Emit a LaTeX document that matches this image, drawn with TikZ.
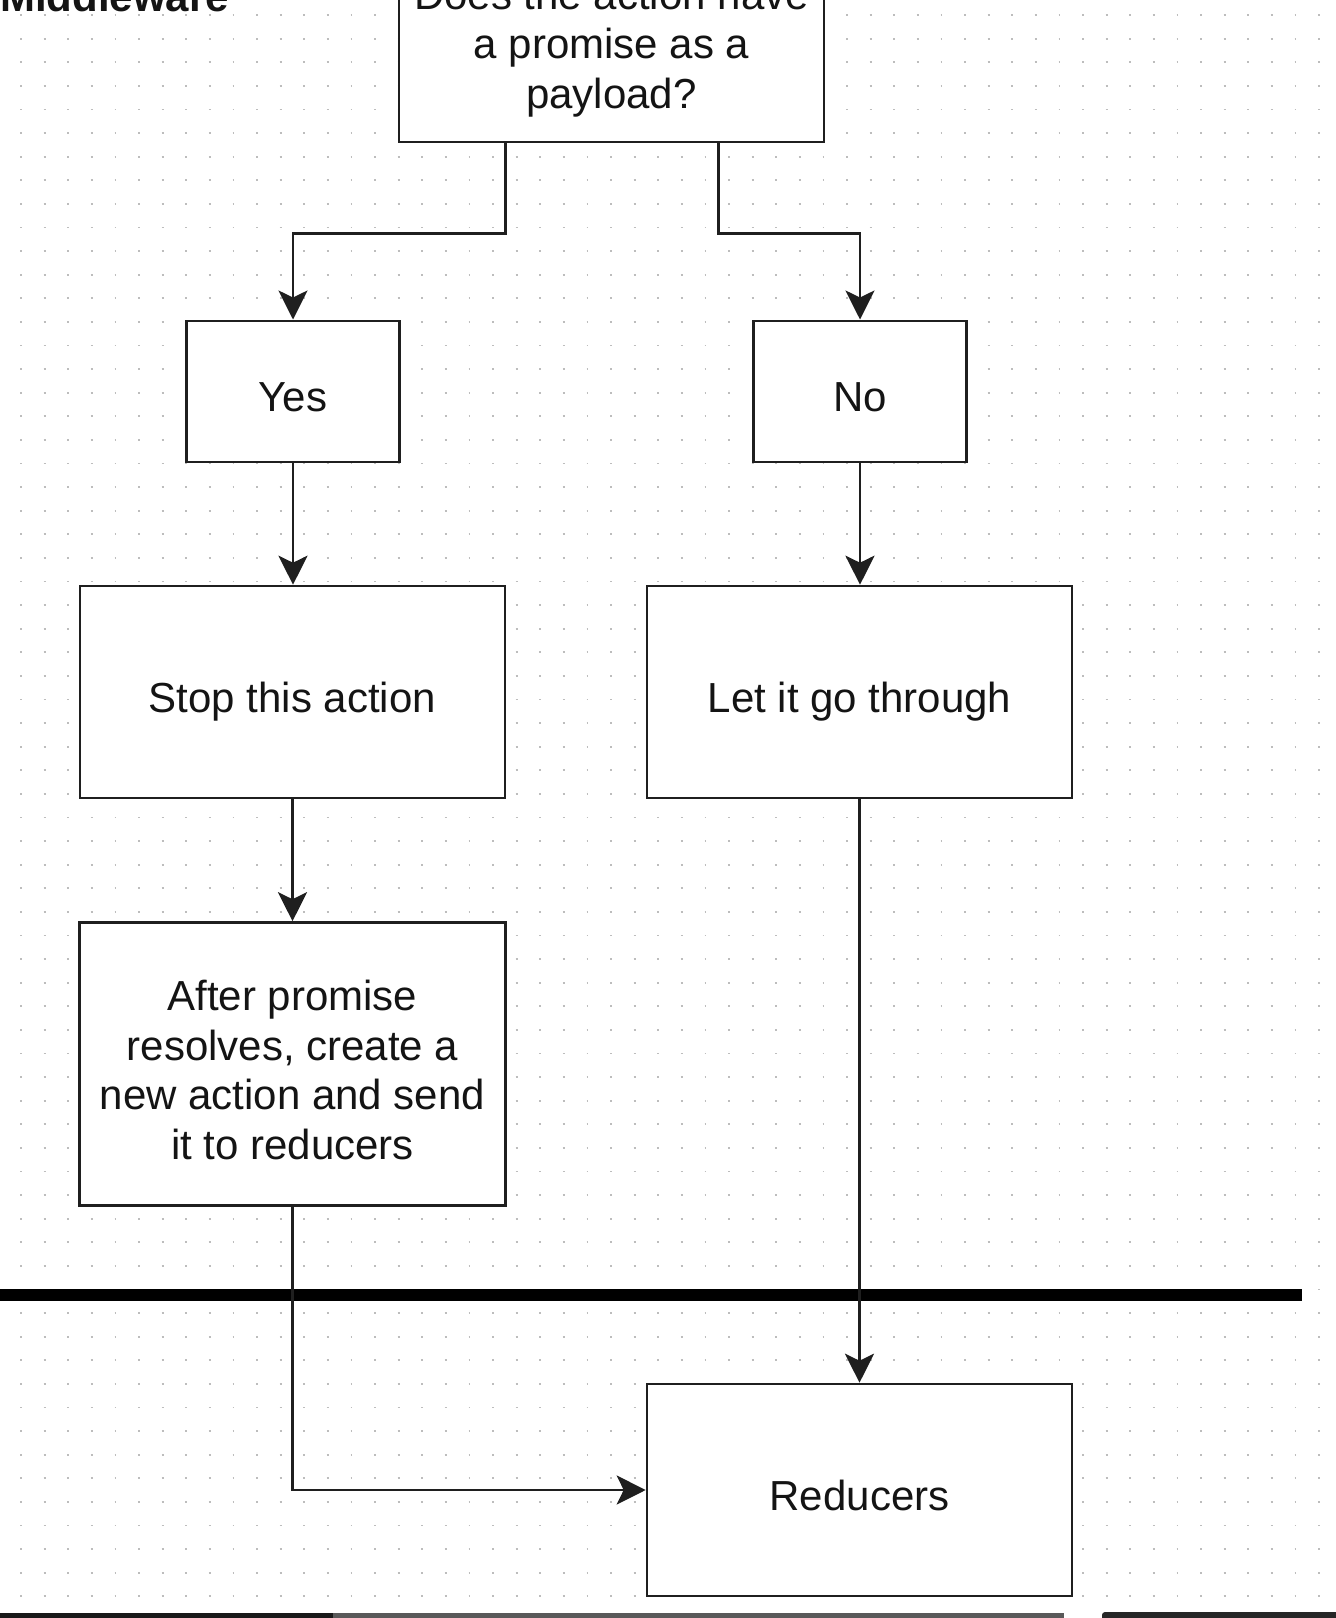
\documentclass[tikz,border=0pt]{standalone}
\usepackage{fontspec}
\setmainfont{Liberation Sans}
\usetikzlibrary{arrows.meta,calc}

\begin{document}
\begin{tikzpicture}[x=1pt,y=-1pt,
  box/.style={draw=black!88, line width=2.6pt, fill=white, inner sep=0pt},
  lbl/.style={align=center, inner sep=0pt, text=black!92,
    font=\fontsize{42}{49.5}\selectfont},
  single/.style={label={[lbl, text height=30pt, text depth=0pt, yshift=-5pt]center:#1}},
  multi/.style={label={[lbl, yshift=-6pt]center:#1}},
  conn/.style={draw=black!88, line width=2.4pt,
    -{Stealth[length=29pt,width=29pt,inset=7pt]}},
  griddots/.style={black!26, line width=1.8pt, dash pattern=on 1.8pt off 21.8pt},
]
\useasboundingbox (0,0) rectangle (1336,1618);
\clip (0,0) rectangle (1336,1618);
\fill[white] (0,0) rectangle (1336,1618);

% dotted drawing grid
\foreach \k in {0,...,68}
  \draw[griddots] (20.1,{15+23.6*\k}) -- (1336,{15+23.6*\k});

% heading
\node[anchor=base west, inner sep=0pt, text=black!92,
      font=\fontsize{42}{50}\selectfont\bfseries] (title) at (0,11) {Middleware};

% boundary between middleware and reducers
\draw[line width=12pt, black] (0,1295) -- (1302,1295);

% flow boxes
\node[box, minimum width=425pt, minimum height=200pt,
      multi={Does the action have\\a promise as a\\payload?}] (q) at (611.5,42) {};
\node[box, minimum width=213pt, minimum height=141pt, single=Yes] (yes) at (293,391.3) {};
\node[box, minimum width=213pt, minimum height=141pt, single=No] (no) at (860,391.3) {};
\node[box, minimum width=425pt, minimum height=212pt, single={Stop this action}] (stop) at (292.5,692) {};
\node[box, minimum width=425pt, minimum height=212pt, single={Let it go through}] (let) at (859.5,692) {};
\node[box, minimum width=426pt, minimum height=283pt,
      multi={After promise\\resolves, create a\\new action and send\\it to reducers}] (after) at (292.5,1064) {};
\node[box, minimum width=425pt, minimum height=212pt, single=Reducers] (red) at (859.5,1490) {};

% connectors
\draw[conn] ([xshift=-106pt]q.south) -- ++(0,90) -| (yes.north);
\draw[conn] ([xshift=107pt]q.south) -- ++(0,90) -| (no.north);
\draw[conn] (yes.south) -- (yes.south |- stop.north);
\draw[conn] (no.south) -- (no.south |- let.north);
\draw[conn] (stop.south) -- (stop.south |- after.north);
\draw[conn] (let.south) -- (let.south |- red.north);
\draw[conn] (after.south) |- (red.west);

% bottom edge bar
\fill[black!90] (0,1613) rectangle (333,1618);
\fill[black!65] (333,1613) rectangle (1064,1618);
\fill[black!85, rounded corners=3pt] (1102,1612) rectangle (1340,1622);
\end{tikzpicture}
\end{document}
